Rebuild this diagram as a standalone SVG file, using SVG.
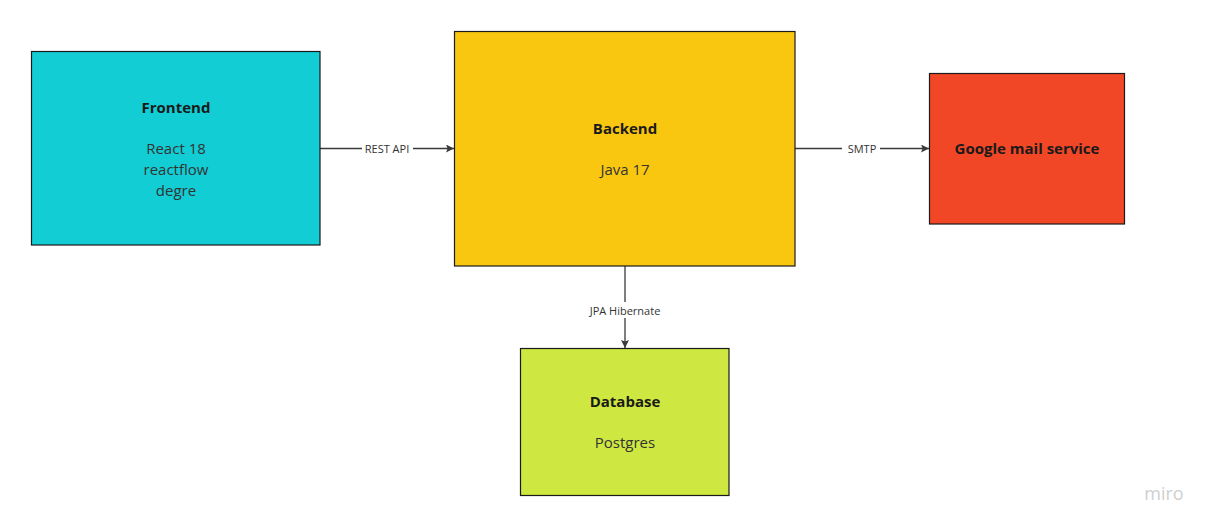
<svg xmlns="http://www.w3.org/2000/svg" width="1211" height="528" viewBox="0 0 1211 528">
<style>
.box{stroke:#1a1a1a;stroke-width:1.2}
.t{font-family:"Open Sans","Noto Sans",sans-serif;fill:#1a1a1a;text-anchor:middle;dominant-baseline:central}
.b{font-weight:bold;font-size:15px}
.n{font-size:15px;fill:#333}
.c{stroke:#3a3a3a;stroke-width:1.3;fill:none}
.lbl{font-family:"Open Sans","Noto Sans",sans-serif;font-size:11px;fill:#333;text-anchor:middle;dominant-baseline:central}
</style>
<defs>
<marker id="arr" viewBox="0 0 10 10" refX="10" refY="5" markerWidth="8" markerHeight="8" markerUnits="userSpaceOnUse" orient="auto">
<path d="M0,0 L10,5 L0,10 L2,5 z" fill="#3a3a3a"/>
</marker>
</defs>
<rect width="1211" height="528" fill="#fff"/>
<g id="connectors">
<line class="c" x1="320" y1="148.5" x2="362" y2="148.5"/>
<line class="c" x1="413" y1="148.5" x2="454" y2="148.5" marker-end="url(#arr)"/>
<text class="lbl" x="387" y="148.5">REST API</text>
<line class="c" x1="795" y1="148.5" x2="842" y2="148.5"/>
<line class="c" x1="880" y1="148.5" x2="929" y2="148.5" marker-end="url(#arr)"/>
<text class="lbl" x="862" y="148.5">SMTP</text>
<line class="c" x1="625" y1="266" x2="625" y2="302"/>
<line class="c" x1="625" y1="318" x2="625" y2="348" marker-end="url(#arr)"/>
<text class="lbl" x="625" y="310">JPA Hibernate</text>
</g>
<g id="frontend">
<rect class="box" x="31.5" y="51.5" width="288.5" height="193.5" fill="#12CDD4"/>
<text class="t b" x="176" y="107">Frontend</text>
<text class="t n" x="176" y="148">React 18</text>
<text class="t n" x="176" y="169">reactflow</text>
<text class="t n" x="176" y="190">degre</text>
</g>
<g id="backend">
<rect class="box" x="454.5" y="31.5" width="340.5" height="234.5" fill="#FAC710"/>
<text class="t b" x="625" y="128">Backend</text>
<text class="t n" x="625" y="169">Java 17</text>
</g>
<g id="gmail">
<rect class="box" x="929.5" y="73.5" width="195" height="150.5" fill="#F24726"/>
<text class="t b" x="1027" y="148">Google mail service</text>
</g>
<g id="database">
<rect class="box" x="520.5" y="348.5" width="208.5" height="147" fill="#CEE741"/>
<text class="t b" x="625" y="401">Database</text>
<text class="t n" x="625" y="442">Postgres</text>
</g>
<text x="1164" y="493" font-family="'Open Sans','Noto Sans',sans-serif" font-size="18" fill="#cfcfcf" text-anchor="middle" dominant-baseline="central">miro</text>
</svg>
